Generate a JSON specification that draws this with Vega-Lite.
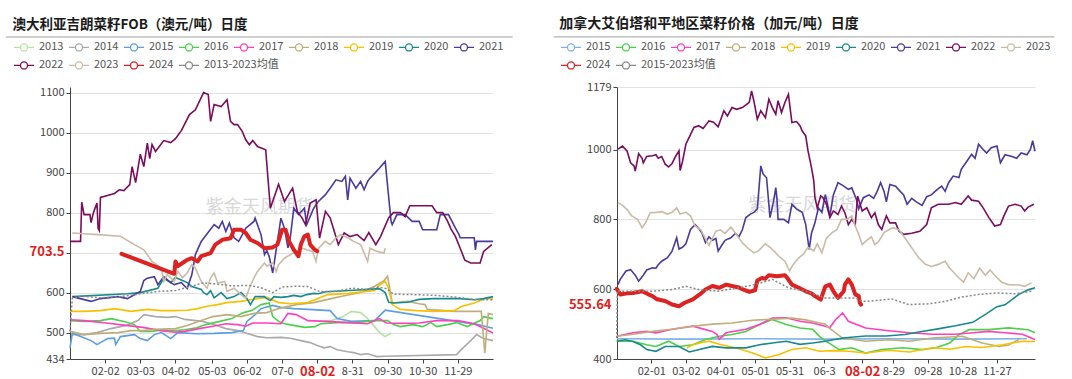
{
"$schema":"https://vega.github.io/schema/vega-lite/v6.json",
"background":"white",
"padding":{"left":5,"top":17,"right":0,"bottom":0},
"spacing":39,
"config":{
"view":{"stroke":null},
"axis":{"labelFont":"Noto Sans CJK SC","labelFontSize":11,"labelColor":"#444","domainColor":"#444","tickColor":"#444","tickSize":4,"labelPadding":2,"grid":false},
"title":{"anchor":"start","font":"Noto Sans CJK SC","fontWeight":"bold","color":"#1a1a1a","offset":5},
"legend":{"direction":"horizontal","columns":9,"symbolType":"M-1,0L-0.35,0M0.35,0L1,0M0.35,0A0.35,0.35,0,1,1,-0.35,0A0.35,0.35,0,1,1,0.35,0","symbolSize":400,"symbolStrokeWidth":1.3,"symbolFillColor":"#ffffff","labelFont":"Noto Sans CJK SC","labelFontSize":11,"labelColor":"#555","labelOffset":4,"columnPadding":2,"rowPadding":2,"padding":0}
},
"resolve":{"scale":{"x":"independent","y":"independent","color":"independent","stroke":"independent"},"legend":{"color":"independent","stroke":"independent"}},
"datasets":{
"L":[
{"s":"2013","x":214,"v":528},{"s":"2013","x":225,"v":530},{"s":"2013","x":235,"v":540},{"s":"2013","x":242,"v":553},{"s":"2013","x":250,"v":550},{"s":"2013","x":256,"v":535},{"s":"2013","x":262,"v":515},{"s":"2013","x":267,"v":498},{"s":"2013","x":271,"v":490},{"s":"2013","x":276,"v":499},
{"s":"2014","x":3,"v":495},{"s":"2014","x":14,"v":495},{"s":"2014","x":25,"v":500},{"s":"2014","x":37,"v":510},{"s":"2014","x":50,"v":518},{"s":"2014","x":60,"v":530},{"s":"2014","x":65,"v":545},{"s":"2014","x":75,"v":540},{"s":"2014","x":85,"v":538},{"s":"2014","x":92,"v":540},{"s":"2014","x":100,"v":533},{"s":"2014","x":115,"v":528},{"s":"2014","x":125,"v":520},{"s":"2014","x":135,"v":510},{"s":"2014","x":145,"v":505},{"s":"2014","x":152,"v":499},{"s":"2014","x":162,"v":490},{"s":"2014","x":170,"v":487},{"s":"2014","x":182,"v":488},{"s":"2014","x":190,"v":486},{"s":"2014","x":199,"v":480},{"s":"2014","x":207,"v":475},{"s":"2014","x":213,"v":468},{"s":"2014","x":219,"v":462},{"s":"2014","x":224,"v":465},{"s":"2014","x":230,"v":457},{"s":"2014","x":239,"v":452},{"s":"2014","x":244,"v":450},{"s":"2014","x":250,"v":445},{"s":"2014","x":256,"v":447},{"s":"2014","x":264,"v":440},{"s":"2014","x":271,"v":441},{"s":"2014","x":332,"v":445},{"s":"2014","x":335,"v":455},{"s":"2014","x":344,"v":480},{"s":"2014","x":349,"v":495},{"s":"2014","x":355,"v":485},{"s":"2014","x":363,"v":480},
{"s":"2015","x":2,"v":462},{"s":"2015","x":4,"v":499},{"s":"2015","x":11,"v":490},{"s":"2015","x":20,"v":480},{"s":"2015","x":25,"v":470},{"s":"2015","x":31,"v":480},{"s":"2015","x":34,"v":485},{"s":"2015","x":40,"v":486},{"s":"2015","x":41,"v":470},{"s":"2015","x":45,"v":490},{"s":"2015","x":57,"v":495},{"s":"2015","x":62,"v":485},{"s":"2015","x":68,"v":480},{"s":"2015","x":74,"v":495},{"s":"2015","x":80,"v":500},{"s":"2015","x":88,"v":485},{"s":"2015","x":94,"v":500},{"s":"2015","x":110,"v":497},{"s":"2015","x":125,"v":498},{"s":"2015","x":140,"v":500},{"s":"2015","x":150,"v":505},{"s":"2015","x":153,"v":528},{"s":"2015","x":160,"v":545},{"s":"2015","x":165,"v":560},{"s":"2015","x":175,"v":568},{"s":"2015","x":182,"v":563},{"s":"2015","x":193,"v":560},{"s":"2015","x":205,"v":558},{"s":"2015","x":224,"v":555},{"s":"2015","x":230,"v":535},{"s":"2015","x":242,"v":528},{"s":"2015","x":262,"v":530},{"s":"2015","x":271,"v":556},{"s":"2015","x":350,"v":520},{"s":"2015","x":363,"v":511},
{"s":"2016","x":3,"v":530},{"s":"2016","x":14,"v":528},{"s":"2016","x":28,"v":530},{"s":"2016","x":37,"v":535},{"s":"2016","x":48,"v":528},{"s":"2016","x":57,"v":520},{"s":"2016","x":62,"v":503},{"s":"2016","x":71,"v":503},{"s":"2016","x":80,"v":506},{"s":"2016","x":92,"v":505},{"s":"2016","x":100,"v":507},{"s":"2016","x":110,"v":512},{"s":"2016","x":118,"v":520},{"s":"2016","x":130,"v":528},{"s":"2016","x":140,"v":535},{"s":"2016","x":150,"v":550},{"s":"2016","x":157,"v":555},{"s":"2016","x":165,"v":570},{"s":"2016","x":172,"v":574},{"s":"2016","x":175,"v":540},{"s":"2016","x":180,"v":528},{"s":"2016","x":185,"v":522},{"s":"2016","x":193,"v":518},{"s":"2016","x":202,"v":513},{"s":"2016","x":211,"v":515},{"s":"2016","x":216,"v":522},{"s":"2016","x":230,"v":525},{"s":"2016","x":248,"v":525},{"s":"2016","x":260,"v":530},{"s":"2016","x":273,"v":530},{"s":"2016","x":278,"v":520},{"s":"2016","x":284,"v":515},{"s":"2016","x":295,"v":520},{"s":"2016","x":303,"v":515},{"s":"2016","x":310,"v":525},{"s":"2016","x":315,"v":515},{"s":"2016","x":324,"v":520},{"s":"2016","x":332,"v":525},{"s":"2016","x":341,"v":515},{"s":"2016","x":352,"v":530},{"s":"2016","x":355,"v":540},{"s":"2016","x":363,"v":535},
{"s":"2017","x":3,"v":532},{"s":"2017","x":14,"v":530},{"s":"2017","x":33,"v":524},{"s":"2017","x":50,"v":518},{"s":"2017","x":64,"v":513},{"s":"2017","x":80,"v":505},{"s":"2017","x":92,"v":501},{"s":"2017","x":100,"v":503},{"s":"2017","x":112,"v":510},{"s":"2017","x":124,"v":516},{"s":"2017","x":135,"v":522},{"s":"2017","x":145,"v":520},{"s":"2017","x":152,"v":516},{"s":"2017","x":158,"v":524},{"s":"2017","x":170,"v":524},{"s":"2017","x":182,"v":522},{"s":"2017","x":188,"v":548},{"s":"2017","x":195,"v":545},{"s":"2017","x":205,"v":530},{"s":"2017","x":220,"v":528},{"s":"2017","x":240,"v":525},{"s":"2017","x":256,"v":522},{"s":"2017","x":266,"v":535},{"s":"2017","x":272,"v":524},{"s":"2017","x":285,"v":523},{"s":"2017","x":300,"v":524},{"s":"2017","x":315,"v":530},{"s":"2017","x":333,"v":530},{"s":"2017","x":347,"v":522},{"s":"2017","x":355,"v":511},{"s":"2017","x":363,"v":499},
{"s":"2018","x":2,"v":503},{"s":"2018","x":14,"v":495},{"s":"2018","x":28,"v":498},{"s":"2018","x":43,"v":500},{"s":"2018","x":54,"v":505},{"s":"2018","x":64,"v":505},{"s":"2018","x":75,"v":508},{"s":"2018","x":92,"v":510},{"s":"2018","x":102,"v":518},{"s":"2018","x":114,"v":530},{"s":"2018","x":124,"v":540},{"s":"2018","x":136,"v":545},{"s":"2018","x":148,"v":540},{"s":"2018","x":159,"v":548},{"s":"2018","x":170,"v":550},{"s":"2018","x":180,"v":560},{"s":"2018","x":195,"v":570},{"s":"2018","x":210,"v":575},{"s":"2018","x":222,"v":583},{"s":"2018","x":234,"v":591},{"s":"2018","x":250,"v":600},{"s":"2018","x":262,"v":616},{"s":"2018","x":270,"v":630},{"s":"2018","x":273,"v":641},{"s":"2018","x":277,"v":574},{"s":"2018","x":290,"v":578},{"s":"2018","x":300,"v":572},{"s":"2018","x":305,"v":570},{"s":"2018","x":307,"v":558},{"s":"2018","x":330,"v":553},{"s":"2018","x":353,"v":553},{"s":"2018","x":356,"v":449},{"s":"2018","x":359,"v":548},{"s":"2018","x":363,"v":545},
{"s":"2019","x":2,"v":553},{"s":"2019","x":14,"v":553},{"s":"2019","x":28,"v":555},{"s":"2019","x":40,"v":560},{"s":"2019","x":54,"v":553},{"s":"2019","x":68,"v":558},{"s":"2019","x":80,"v":555},{"s":"2019","x":91,"v":555},{"s":"2019","x":102,"v":556},{"s":"2019","x":111,"v":560},{"s":"2019","x":119,"v":566},{"s":"2019","x":128,"v":570},{"s":"2019","x":136,"v":575},{"s":"2019","x":148,"v":578},{"s":"2019","x":156,"v":582},{"s":"2019","x":170,"v":588},{"s":"2019","x":180,"v":575},{"s":"2019","x":190,"v":572},{"s":"2019","x":205,"v":575},{"s":"2019","x":222,"v":595},{"s":"2019","x":240,"v":598},{"s":"2019","x":255,"v":603},{"s":"2019","x":262,"v":605},{"s":"2019","x":266,"v":618},{"s":"2019","x":271,"v":628},{"s":"2019","x":274,"v":610},{"s":"2019","x":277,"v":570},{"s":"2019","x":284,"v":558},{"s":"2019","x":298,"v":555},{"s":"2019","x":312,"v":553},{"s":"2019","x":330,"v":555},{"s":"2019","x":336,"v":565},{"s":"2019","x":347,"v":574},{"s":"2019","x":357,"v":586},{"s":"2019","x":363,"v":585},
{"s":"2020","x":4,"v":590},{"s":"2020","x":51,"v":597},{"s":"2020","x":62,"v":600},{"s":"2020","x":77,"v":611},{"s":"2020","x":82,"v":636},{"s":"2020","x":88,"v":625},{"s":"2020","x":92,"v":638},{"s":"2020","x":98,"v":630},{"s":"2020","x":102,"v":625},{"s":"2020","x":106,"v":615},{"s":"2020","x":114,"v":608},{"s":"2020","x":116,"v":600},{"s":"2020","x":119,"v":595},{"s":"2020","x":122,"v":605},{"s":"2020","x":125,"v":587},{"s":"2020","x":131,"v":600},{"s":"2020","x":136,"v":585},{"s":"2020","x":142,"v":590},{"s":"2020","x":148,"v":600},{"s":"2020","x":153,"v":585},{"s":"2020","x":156,"v":570},{"s":"2020","x":160,"v":590},{"s":"2020","x":168,"v":590},{"s":"2020","x":170,"v":585},{"s":"2020","x":173,"v":580},{"s":"2020","x":176,"v":590},{"s":"2020","x":182,"v":588},{"s":"2020","x":188,"v":590},{"s":"2020","x":193,"v":593},{"s":"2020","x":199,"v":590},{"s":"2020","x":204,"v":595},{"s":"2020","x":210,"v":598},{"s":"2020","x":214,"v":597},{"s":"2020","x":220,"v":602},{"s":"2020","x":233,"v":604},{"s":"2020","x":244,"v":606},{"s":"2020","x":256,"v":608},{"s":"2020","x":266,"v":610},{"s":"2020","x":271,"v":600},{"s":"2020","x":274,"v":576},{"s":"2020","x":278,"v":574},{"s":"2020","x":290,"v":576},{"s":"2020","x":300,"v":583},{"s":"2020","x":312,"v":585},{"s":"2020","x":324,"v":585},{"s":"2020","x":335,"v":585},{"s":"2020","x":347,"v":582},{"s":"2020","x":355,"v":585},{"s":"2020","x":363,"v":590},
{"s":"2021","x":4,"v":590},{"s":"2021","x":20,"v":578},{"s":"2021","x":28,"v":585},{"s":"2021","x":43,"v":590},{"s":"2021","x":51,"v":585},{"s":"2021","x":62,"v":603},{"s":"2021","x":65,"v":630},{"s":"2021","x":68,"v":636},{"s":"2021","x":74,"v":640},{"s":"2021","x":77,"v":620},{"s":"2021","x":82,"v":640},{"s":"2021","x":88,"v":625},{"s":"2021","x":91,"v":620},{"s":"2021","x":97,"v":625},{"s":"2021","x":102,"v":610},{"s":"2021","x":106,"v":645},{"s":"2021","x":109,"v":695},{"s":"2021","x":114,"v":728},{"s":"2021","x":125,"v":770},{"s":"2021","x":129,"v":761},{"s":"2021","x":132,"v":778},{"s":"2021","x":135,"v":753},{"s":"2021","x":138,"v":774},{"s":"2021","x":142,"v":737},{"s":"2021","x":146,"v":728},{"s":"2021","x":152,"v":761},{"s":"2021","x":159,"v":778},{"s":"2021","x":160,"v":786},{"s":"2021","x":165,"v":745},{"s":"2021","x":168,"v":695},{"s":"2021","x":170,"v":705},{"s":"2021","x":172,"v":690},{"s":"2021","x":175,"v":649},{"s":"2021","x":182,"v":786},{"s":"2021","x":185,"v":761},{"s":"2021","x":188,"v":712},{"s":"2021","x":190,"v":737},{"s":"2021","x":193,"v":811},{"s":"2021","x":197,"v":795},{"s":"2021","x":202,"v":811},{"s":"2021","x":204,"v":770},{"s":"2021","x":210,"v":811},{"s":"2021","x":214,"v":828},{"s":"2021","x":220,"v":845},{"s":"2021","x":224,"v":861},{"s":"2021","x":229,"v":882},{"s":"2021","x":234,"v":878},{"s":"2021","x":237,"v":891},{"s":"2021","x":239,"v":832},{"s":"2021","x":241,"v":886},{"s":"2021","x":246,"v":861},{"s":"2021","x":250,"v":878},{"s":"2021","x":253,"v":857},{"s":"2021","x":256,"v":878},{"s":"2021","x":258,"v":886},{"s":"2021","x":261,"v":895},{"s":"2021","x":266,"v":911},{"s":"2021","x":271,"v":928},{"s":"2021","x":276,"v":778},{"s":"2021","x":277,"v":770},{"s":"2021","x":281,"v":795},{"s":"2021","x":288,"v":795},{"s":"2021","x":294,"v":778},{"s":"2021","x":300,"v":778},{"s":"2021","x":303,"v":757},{"s":"2021","x":315,"v":757},{"s":"2021","x":318,"v":795},{"s":"2021","x":325,"v":795},{"s":"2021","x":328,"v":778},{"s":"2021","x":331,"v":761},{"s":"2021","x":334,"v":745},{"s":"2021","x":335,"v":737},{"s":"2021","x":347,"v":737},{"s":"2021","x":348,"v":707},{"s":"2021","x":349,"v":728},{"s":"2021","x":363,"v":728},
{"s":"2022","x":2,"v":728},{"s":"2022","x":11,"v":728},{"s":"2022","x":12,"v":826},{"s":"2022","x":14,"v":795},{"s":"2022","x":19,"v":795},{"s":"2022","x":20,"v":775},{"s":"2022","x":22,"v":800},{"s":"2022","x":25,"v":824},{"s":"2022","x":26,"v":760},{"s":"2022","x":27,"v":755},{"s":"2022","x":28,"v":838},{"s":"2022","x":34,"v":843},{"s":"2022","x":40,"v":848},{"s":"2022","x":44,"v":857},{"s":"2022","x":48,"v":855},{"s":"2022","x":53,"v":870},{"s":"2022","x":55,"v":915},{"s":"2022","x":58,"v":875},{"s":"2022","x":62,"v":946},{"s":"2022","x":65,"v":915},{"s":"2022","x":68,"v":974},{"s":"2022","x":70,"v":935},{"s":"2022","x":72,"v":970},{"s":"2022","x":75,"v":953},{"s":"2022","x":82,"v":980},{"s":"2022","x":88,"v":975},{"s":"2022","x":92,"v":985},{"s":"2022","x":97,"v":1005},{"s":"2022","x":104,"v":1045},{"s":"2022","x":109,"v":1057},{"s":"2022","x":116,"v":1100},{"s":"2022","x":120,"v":1095},{"s":"2022","x":122,"v":1028},{"s":"2022","x":125,"v":1070},{"s":"2022","x":131,"v":1065},{"s":"2022","x":136,"v":1082},{"s":"2022","x":139,"v":1028},{"s":"2022","x":142,"v":1020},{"s":"2022","x":145,"v":1020},{"s":"2022","x":149,"v":1003},{"s":"2022","x":152,"v":982},{"s":"2022","x":155,"v":970},{"s":"2022","x":158,"v":980},{"s":"2022","x":162,"v":965},{"s":"2022","x":169,"v":957},{"s":"2022","x":173,"v":811},{"s":"2022","x":180,"v":871},{"s":"2022","x":185,"v":828},{"s":"2022","x":192,"v":861},{"s":"2022","x":196,"v":803},{"s":"2022","x":200,"v":787},{"s":"2022","x":203,"v":770},{"s":"2022","x":207,"v":824},{"s":"2022","x":212,"v":832},{"s":"2022","x":215,"v":736},{"s":"2022","x":220,"v":803},{"s":"2022","x":224,"v":787},{"s":"2022","x":231,"v":720},{"s":"2022","x":236,"v":749},{"s":"2022","x":241,"v":740},{"s":"2022","x":247,"v":745},{"s":"2022","x":253,"v":730},{"s":"2022","x":257,"v":750},{"s":"2022","x":263,"v":720},{"s":"2022","x":267,"v":740},{"s":"2022","x":274,"v":787},{"s":"2022","x":278,"v":800},{"s":"2022","x":284,"v":800},{"s":"2022","x":288,"v":790},{"s":"2022","x":292,"v":817},{"s":"2022","x":311,"v":817},{"s":"2022","x":315,"v":800},{"s":"2022","x":320,"v":800},{"s":"2022","x":324,"v":780},{"s":"2022","x":327,"v":760},{"s":"2022","x":331,"v":740},{"s":"2022","x":335,"v":711},{"s":"2022","x":339,"v":681},{"s":"2022","x":344,"v":674},{"s":"2022","x":352,"v":674},{"s":"2022","x":355,"v":703},{"s":"2022","x":362,"v":720},
{"s":"2023","x":4,"v":749},{"s":"2023","x":26,"v":745},{"s":"2023","x":45,"v":741},{"s":"2023","x":57,"v":720},{"s":"2023","x":65,"v":707},{"s":"2023","x":72,"v":678},{"s":"2023","x":80,"v":661},{"s":"2023","x":82,"v":628},{"s":"2023","x":85,"v":645},{"s":"2023","x":88,"v":637},{"s":"2023","x":91,"v":628},{"s":"2023","x":94,"v":653},{"s":"2023","x":98,"v":637},{"s":"2023","x":102,"v":649},{"s":"2023","x":106,"v":670},{"s":"2023","x":109,"v":661},{"s":"2023","x":114,"v":628},{"s":"2023","x":119,"v":611},{"s":"2023","x":122,"v":637},{"s":"2023","x":125,"v":649},{"s":"2023","x":128,"v":624},{"s":"2023","x":134,"v":628},{"s":"2023","x":136,"v":603},{"s":"2023","x":142,"v":611},{"s":"2023","x":148,"v":595},{"s":"2023","x":152,"v":586},{"s":"2023","x":155,"v":611},{"s":"2023","x":159,"v":637},{"s":"2023","x":162,"v":653},{"s":"2023","x":168,"v":674},{"s":"2023","x":170,"v":666},{"s":"2023","x":175,"v":674},{"s":"2023","x":178,"v":653},{"s":"2023","x":180,"v":670},{"s":"2023","x":185,"v":686},{"s":"2023","x":190,"v":695},{"s":"2023","x":196,"v":703},{"s":"2023","x":200,"v":711},{"s":"2023","x":204,"v":707},{"s":"2023","x":209,"v":703},{"s":"2023","x":212,"v":678},{"s":"2023","x":214,"v":711},{"s":"2023","x":220,"v":728},{"s":"2023","x":224,"v":720},{"s":"2023","x":229,"v":737},{"s":"2023","x":233,"v":745},{"s":"2023","x":239,"v":737},{"s":"2023","x":244,"v":728},{"s":"2023","x":250,"v":720},{"s":"2023","x":256,"v":678},{"s":"2023","x":258,"v":711},{"s":"2023","x":264,"v":703},{"s":"2023","x":270,"v":699},{"s":"2023","x":271,"v":711},
{"s":"2024","x":46,"v":697},{"s":"2024","x":91,"v":647},{"s":"2024","x":92,"v":678},{"s":"2024","x":94,"v":666},{"s":"2024","x":98,"v":674},{"s":"2024","x":102,"v":682},{"s":"2024","x":106,"v":686},{"s":"2024","x":111,"v":678},{"s":"2024","x":114,"v":691},{"s":"2024","x":118,"v":695},{"s":"2024","x":122,"v":699},{"s":"2024","x":126,"v":720},{"s":"2024","x":132,"v":732},{"s":"2024","x":139,"v":736},{"s":"2024","x":142,"v":757},{"s":"2024","x":148,"v":757},{"s":"2024","x":152,"v":749},{"s":"2024","x":156,"v":732},{"s":"2024","x":162,"v":724},{"s":"2024","x":168,"v":711},{"s":"2024","x":175,"v":713},{"s":"2024","x":179,"v":720},{"s":"2024","x":183,"v":757},{"s":"2024","x":186,"v":757},{"s":"2024","x":189,"v":728},{"s":"2024","x":193,"v":707},{"s":"2024","x":197,"v":691},{"s":"2024","x":199,"v":720},{"s":"2024","x":202,"v":741},{"s":"2024","x":205,"v":745},{"s":"2024","x":207,"v":720},{"s":"2024","x":211,"v":707},{"s":"2024","x":213,"v":703.5},
{"s":"2013-2023均值","x":2,"v":503},{"s":"2013-2023均值","x":4,"v":586},{"s":"2013-2023均值","x":12,"v":591},{"s":"2013-2023均值","x":28,"v":587},{"s":"2013-2023均值","x":45,"v":590},{"s":"2013-2023均值","x":60,"v":596},{"s":"2013-2023均值","x":77,"v":603},{"s":"2013-2023均值","x":92,"v":605},{"s":"2013-2023均值","x":105,"v":615},{"s":"2013-2023均值","x":115,"v":624},{"s":"2013-2023均值","x":125,"v":622},{"s":"2013-2023均值","x":140,"v":617},{"s":"2013-2023均值","x":155,"v":618},{"s":"2013-2023均值","x":165,"v":612},{"s":"2013-2023均值","x":175,"v":600},{"s":"2013-2023均值","x":183,"v":614},{"s":"2013-2023均值","x":195,"v":616},{"s":"2013-2023均值","x":205,"v":615},{"s":"2013-2023均值","x":215,"v":603},{"s":"2013-2023均值","x":228,"v":603},{"s":"2013-2023均值","x":243,"v":611},{"s":"2013-2023均值","x":257,"v":607},{"s":"2013-2023均值","x":265,"v":614},{"s":"2013-2023均值","x":272,"v":610},{"s":"2013-2023均值","x":278,"v":596},{"s":"2013-2023均值","x":295,"v":595},{"s":"2013-2023均值","x":315,"v":593},{"s":"2013-2023均值","x":333,"v":588},{"s":"2013-2023均值","x":350,"v":582},{"s":"2013-2023均值","x":363,"v":582}
],
"R":[
{"s":"2015","x":1,"v":458},{"s":"2015","x":60,"v":457},{"s":"2015","x":120,"v":458},{"s":"2015","x":180,"v":457},{"s":"2015","x":240,"v":458},{"s":"2015","x":300,"v":457},{"s":"2015","x":357,"v":458},
{"s":"2016","x":1,"v":451},{"s":"2016","x":15,"v":451},{"s":"2016","x":27,"v":441},{"s":"2016","x":35,"v":436},{"s":"2016","x":46,"v":451},{"s":"2016","x":55,"v":436},{"s":"2016","x":67,"v":441},{"s":"2016","x":78,"v":456},{"s":"2016","x":90,"v":465},{"s":"2016","x":101,"v":470},{"s":"2016","x":113,"v":479},{"s":"2016","x":125,"v":499},{"s":"2016","x":136,"v":513},{"s":"2016","x":148,"v":499},{"s":"2016","x":160,"v":489},{"s":"2016","x":171,"v":485},{"s":"2016","x":177,"v":465},{"s":"2016","x":182,"v":451},{"s":"2016","x":185,"v":446},{"s":"2016","x":194,"v":427},{"s":"2016","x":205,"v":432},{"s":"2016","x":217,"v":417},{"s":"2016","x":231,"v":427},{"s":"2016","x":249,"v":432},{"s":"2016","x":266,"v":427},{"s":"2016","x":278,"v":432},{"s":"2016","x":290,"v":446},{"s":"2016","x":298,"v":470},{"s":"2016","x":307,"v":484},{"s":"2016","x":324,"v":484},{"s":"2016","x":341,"v":489},{"s":"2016","x":358,"v":484},{"s":"2016","x":364,"v":475},
{"s":"2017","x":1,"v":465},{"s":"2017","x":15,"v":475},{"s":"2017","x":27,"v":479},{"s":"2017","x":35,"v":475},{"s":"2017","x":49,"v":485},{"s":"2017","x":67,"v":494},{"s":"2017","x":84,"v":479},{"s":"2017","x":88,"v":470},{"s":"2017","x":90,"v":456},{"s":"2017","x":96,"v":475},{"s":"2017","x":113,"v":485},{"s":"2017","x":125,"v":499},{"s":"2017","x":136,"v":517},{"s":"2017","x":148,"v":518},{"s":"2017","x":160,"v":508},{"s":"2017","x":171,"v":503},{"s":"2017","x":182,"v":494},{"s":"2017","x":186,"v":490},{"s":"2017","x":191,"v":513},{"s":"2017","x":197,"v":532},{"s":"2017","x":202,"v":508},{"s":"2017","x":217,"v":489},{"s":"2017","x":237,"v":481},{"s":"2017","x":255,"v":475},{"s":"2017","x":275,"v":471},{"s":"2017","x":295,"v":471},{"s":"2017","x":310,"v":475},{"s":"2017","x":324,"v":479},{"s":"2017","x":338,"v":475},{"s":"2017","x":353,"v":471},{"s":"2017","x":364,"v":456},
{"s":"2018","x":1,"v":465},{"s":"2018","x":15,"v":471},{"s":"2018","x":32,"v":479},{"s":"2018","x":49,"v":485},{"s":"2018","x":67,"v":494},{"s":"2018","x":84,"v":500},{"s":"2018","x":101,"v":503},{"s":"2018","x":119,"v":511},{"s":"2018","x":136,"v":514},{"s":"2018","x":153,"v":517},{"s":"2018","x":165,"v":512},{"s":"2018","x":177,"v":503},{"s":"2018","x":182,"v":500},{"s":"2018","x":185,"v":490},{"s":"2018","x":197,"v":460},{"s":"2018","x":217,"v":451},{"s":"2018","x":237,"v":455},{"s":"2018","x":255,"v":451},{"s":"2018","x":275,"v":460},{"s":"2018","x":290,"v":463},{"s":"2018","x":301,"v":465},{"s":"2018","x":318,"v":446},{"s":"2018","x":333,"v":436},{"s":"2018","x":341,"v":440},{"s":"2018","x":350,"v":456},
{"s":"2019","x":62,"v":432},{"s":"2019","x":67,"v":441},{"s":"2019","x":75,"v":447},{"s":"2019","x":81,"v":451},{"s":"2019","x":90,"v":442},{"s":"2019","x":104,"v":432},{"s":"2019","x":119,"v":417},{"s":"2019","x":130,"v":403},{"s":"2019","x":142,"v":413},{"s":"2019","x":153,"v":427},{"s":"2019","x":165,"v":432},{"s":"2019","x":177,"v":422},{"s":"2019","x":190,"v":424},{"s":"2019","x":202,"v":422},{"s":"2019","x":217,"v":417},{"s":"2019","x":237,"v":425},{"s":"2019","x":255,"v":420},{"s":"2019","x":275,"v":432},{"s":"2019","x":290,"v":428},{"s":"2019","x":304,"v":436},{"s":"2019","x":318,"v":433},{"s":"2019","x":336,"v":441},{"s":"2019","x":353,"v":451},{"s":"2019","x":364,"v":450},
{"s":"2020","x":1,"v":451},{"s":"2020","x":8,"v":455},{"s":"2020","x":15,"v":450},{"s":"2020","x":22,"v":440},{"s":"2020","x":27,"v":427},{"s":"2020","x":35,"v":422},{"s":"2020","x":43,"v":436},{"s":"2020","x":55,"v":436},{"s":"2020","x":64,"v":420},{"s":"2020","x":70,"v":425},{"s":"2020","x":84,"v":436},{"s":"2020","x":96,"v":432},{"s":"2020","x":113,"v":432},{"s":"2020","x":125,"v":441},{"s":"2020","x":136,"v":446},{"s":"2020","x":148,"v":451},{"s":"2020","x":160,"v":442},{"s":"2020","x":171,"v":446},{"s":"2020","x":182,"v":451},{"s":"2020","x":197,"v":460},{"s":"2020","x":217,"v":466},{"s":"2020","x":235,"v":466},{"s":"2020","x":251,"v":470},{"s":"2020","x":266,"v":479},{"s":"2020","x":281,"v":487},{"s":"2020","x":295,"v":495},{"s":"2020","x":310,"v":505},{"s":"2020","x":322,"v":530},{"s":"2020","x":331,"v":550},{"s":"2020","x":338,"v":555},{"s":"2020","x":350,"v":585},{"s":"2020","x":358,"v":598},{"s":"2020","x":364,"v":604},
{"s":"2021","x":2,"v":613},{"s":"2021","x":4,"v":628},{"s":"2021","x":9,"v":652},{"s":"2021","x":13,"v":656},{"s":"2021","x":17,"v":640},{"s":"2021","x":20,"v":623},{"s":"2021","x":24,"v":640},{"s":"2021","x":27,"v":655},{"s":"2021","x":32,"v":661},{"s":"2021","x":35,"v":660},{"s":"2021","x":37,"v":670},{"s":"2021","x":40,"v":680},{"s":"2021","x":45,"v":690},{"s":"2021","x":49,"v":709},{"s":"2021","x":53,"v":747},{"s":"2021","x":55,"v":715},{"s":"2021","x":58,"v":720},{"s":"2021","x":61,"v":730},{"s":"2021","x":65,"v":771},{"s":"2021","x":69,"v":785},{"s":"2021","x":72,"v":775},{"s":"2021","x":75,"v":760},{"s":"2021","x":78,"v":733},{"s":"2021","x":81,"v":750},{"s":"2021","x":84,"v":740},{"s":"2021","x":87,"v":745},{"s":"2021","x":89,"v":709},{"s":"2021","x":92,"v":725},{"s":"2021","x":95,"v":740},{"s":"2021","x":100,"v":747},{"s":"2021","x":104,"v":760},{"s":"2021","x":107,"v":750},{"s":"2021","x":110,"v":770},{"s":"2021","x":113,"v":805},{"s":"2021","x":117,"v":815},{"s":"2021","x":120,"v":820},{"s":"2021","x":123,"v":830},{"s":"2021","x":126,"v":953},{"s":"2021","x":128,"v":930},{"s":"2021","x":131,"v":919},{"s":"2021","x":134,"v":805},{"s":"2021","x":137,"v":850},{"s":"2021","x":139,"v":891},{"s":"2021","x":140,"v":860},{"s":"2021","x":141,"v":800},{"s":"2021","x":146,"v":800},{"s":"2021","x":150,"v":790},{"s":"2021","x":153,"v":843},{"s":"2021","x":157,"v":830},{"s":"2021","x":162,"v":820},{"s":"2021","x":165,"v":785},{"s":"2021","x":168,"v":714},{"s":"2021","x":170,"v":760},{"s":"2021","x":173,"v":790},{"s":"2021","x":176,"v":833},{"s":"2021","x":179,"v":820},{"s":"2021","x":182,"v":871},{"s":"2021","x":186,"v":810},{"s":"2021","x":189,"v":870},{"s":"2021","x":193,"v":905},{"s":"2021","x":198,"v":895},{"s":"2021","x":202,"v":886},{"s":"2021","x":205,"v":890},{"s":"2021","x":209,"v":857},{"s":"2021","x":211,"v":830},{"s":"2021","x":215,"v":862},{"s":"2021","x":220,"v":870},{"s":"2021","x":224,"v":860},{"s":"2021","x":227,"v":880},{"s":"2021","x":230,"v":905},{"s":"2021","x":233,"v":880},{"s":"2021","x":235,"v":850},{"s":"2021","x":238,"v":900},{"s":"2021","x":243,"v":895},{"s":"2021","x":247,"v":880},{"s":"2021","x":250,"v":870},{"s":"2021","x":253,"v":843},{"s":"2021","x":257,"v":860},{"s":"2021","x":261,"v":850},{"s":"2021","x":266,"v":840},{"s":"2021","x":270,"v":865},{"s":"2021","x":274,"v":870},{"s":"2021","x":279,"v":885},{"s":"2021","x":283,"v":895},{"s":"2021","x":286,"v":880},{"s":"2021","x":289,"v":905},{"s":"2021","x":293,"v":924},{"s":"2021","x":298,"v":920},{"s":"2021","x":300,"v":943},{"s":"2021","x":305,"v":967},{"s":"2021","x":309,"v":986},{"s":"2021","x":312,"v":975},{"s":"2021","x":315,"v":1015},{"s":"2021","x":319,"v":1000},{"s":"2021","x":322,"v":990},{"s":"2021","x":326,"v":1005},{"s":"2021","x":331,"v":1010},{"s":"2021","x":334,"v":962},{"s":"2021","x":338,"v":985},{"s":"2021","x":344,"v":980},{"s":"2021","x":348,"v":975},{"s":"2021","x":352,"v":990},{"s":"2021","x":357,"v":985},{"s":"2021","x":360,"v":1000},{"s":"2021","x":362,"v":1025},{"s":"2021","x":364,"v":995},
{"s":"2022","x":2,"v":1001},{"s":"2022","x":6,"v":1010},{"s":"2022","x":10,"v":995},{"s":"2022","x":13,"v":962},{"s":"2022","x":16,"v":953},{"s":"2022","x":17,"v":938},{"s":"2022","x":20,"v":988},{"s":"2022","x":23,"v":975},{"s":"2022","x":24,"v":962},{"s":"2022","x":27,"v":980},{"s":"2022","x":32,"v":982},{"s":"2022","x":35,"v":985},{"s":"2022","x":37,"v":975},{"s":"2022","x":40,"v":980},{"s":"2022","x":43,"v":958},{"s":"2022","x":46,"v":950},{"s":"2022","x":49,"v":960},{"s":"2022","x":52,"v":980},{"s":"2022","x":55,"v":996},{"s":"2022","x":56,"v":940},{"s":"2022","x":58,"v":965},{"s":"2022","x":61,"v":1015},{"s":"2022","x":63,"v":1029},{"s":"2022","x":68,"v":1063},{"s":"2022","x":72,"v":1068},{"s":"2022","x":76,"v":1060},{"s":"2022","x":81,"v":1082},{"s":"2022","x":85,"v":1078},{"s":"2022","x":89,"v":1065},{"s":"2022","x":94,"v":1111},{"s":"2022","x":97,"v":1096},{"s":"2022","x":101,"v":1120},{"s":"2022","x":105,"v":1115},{"s":"2022","x":110,"v":1120},{"s":"2022","x":114,"v":1130},{"s":"2022","x":116,"v":1135},{"s":"2022","x":118,"v":1168},{"s":"2022","x":120,"v":1139},{"s":"2022","x":123,"v":1087},{"s":"2022","x":126,"v":1111},{"s":"2022","x":130,"v":1091},{"s":"2022","x":133,"v":1144},{"s":"2022","x":136,"v":1120},{"s":"2022","x":139,"v":1101},{"s":"2022","x":141,"v":1140},{"s":"2022","x":144,"v":1106},{"s":"2022","x":147,"v":1135},{"s":"2022","x":150,"v":1158},{"s":"2022","x":153,"v":1077},{"s":"2022","x":157,"v":1080},{"s":"2022","x":160,"v":1068},{"s":"2022","x":162,"v":1053},{"s":"2022","x":165,"v":1039},{"s":"2022","x":167,"v":996},{"s":"2022","x":170,"v":948},{"s":"2022","x":172,"v":910},{"s":"2022","x":173,"v":862},{"s":"2022","x":175,"v":833},{"s":"2022","x":178,"v":867},{"s":"2022","x":180,"v":862},{"s":"2022","x":183,"v":843},{"s":"2022","x":186,"v":805},{"s":"2022","x":189,"v":824},{"s":"2022","x":193,"v":814},{"s":"2022","x":196,"v":838},{"s":"2022","x":199,"v":819},{"s":"2022","x":202,"v":785},{"s":"2022","x":205,"v":800},{"s":"2022","x":208,"v":785},{"s":"2022","x":210,"v":867},{"s":"2022","x":214,"v":824},{"s":"2022","x":218,"v":833},{"s":"2022","x":222,"v":805},{"s":"2022","x":225,"v":819},{"s":"2022","x":228,"v":785},{"s":"2022","x":231,"v":771},{"s":"2022","x":235,"v":810},{"s":"2022","x":238,"v":790},{"s":"2022","x":243,"v":790},{"s":"2022","x":246,"v":766},{"s":"2022","x":250,"v":757},{"s":"2022","x":257,"v":760},{"s":"2022","x":264,"v":766},{"s":"2022","x":270,"v":785},{"s":"2022","x":274,"v":833},{"s":"2022","x":280,"v":843},{"s":"2022","x":289,"v":843},{"s":"2022","x":295,"v":848},{"s":"2022","x":300,"v":843},{"s":"2022","x":306,"v":867},{"s":"2022","x":309,"v":855},{"s":"2022","x":315,"v":852},{"s":"2022","x":319,"v":833},{"s":"2022","x":324,"v":805},{"s":"2022","x":329,"v":781},{"s":"2022","x":334,"v":785},{"s":"2022","x":337,"v":810},{"s":"2022","x":341,"v":838},{"s":"2022","x":347,"v":843},{"s":"2022","x":352,"v":838},{"s":"2022","x":355,"v":824},{"s":"2022","x":358,"v":835},{"s":"2022","x":363,"v":843},
{"s":"2023","x":2,"v":848},{"s":"2023","x":6,"v":840},{"s":"2023","x":10,"v":828},{"s":"2023","x":14,"v":810},{"s":"2023","x":19,"v":800},{"s":"2023","x":23,"v":776},{"s":"2023","x":26,"v":790},{"s":"2023","x":30,"v":819},{"s":"2023","x":35,"v":820},{"s":"2023","x":40,"v":822},{"s":"2023","x":45,"v":815},{"s":"2023","x":49,"v":820},{"s":"2023","x":53,"v":833},{"s":"2023","x":56,"v":815},{"s":"2023","x":61,"v":820},{"s":"2023","x":65,"v":810},{"s":"2023","x":69,"v":781},{"s":"2023","x":74,"v":770},{"s":"2023","x":76,"v":757},{"s":"2023","x":81,"v":725},{"s":"2023","x":87,"v":766},{"s":"2023","x":91,"v":770},{"s":"2023","x":95,"v":760},{"s":"2023","x":100,"v":778},{"s":"2023","x":104,"v":760},{"s":"2023","x":110,"v":733},{"s":"2023","x":114,"v":720},{"s":"2023","x":120,"v":704},{"s":"2023","x":124,"v":710},{"s":"2023","x":130,"v":730},{"s":"2023","x":134,"v":720},{"s":"2023","x":139,"v":704},{"s":"2023","x":143,"v":690},{"s":"2023","x":147,"v":680},{"s":"2023","x":151,"v":652},{"s":"2023","x":154,"v":670},{"s":"2023","x":159,"v":690},{"s":"2023","x":163,"v":700},{"s":"2023","x":167,"v":720},{"s":"2023","x":172,"v":710},{"s":"2023","x":175,"v":730},{"s":"2023","x":179,"v":704},{"s":"2023","x":183,"v":747},{"s":"2023","x":188,"v":762},{"s":"2023","x":192,"v":770},{"s":"2023","x":196,"v":800},{"s":"2023","x":201,"v":800},{"s":"2023","x":205,"v":810},{"s":"2023","x":208,"v":781},{"s":"2023","x":211,"v":757},{"s":"2023","x":214,"v":728},{"s":"2023","x":218,"v":740},{"s":"2023","x":222,"v":750},{"s":"2023","x":225,"v":728},{"s":"2023","x":228,"v":735},{"s":"2023","x":233,"v":762},{"s":"2023","x":237,"v":770},{"s":"2023","x":241,"v":776},{"s":"2023","x":246,"v":770},{"s":"2023","x":250,"v":752},{"s":"2023","x":254,"v":733},{"s":"2023","x":259,"v":709},{"s":"2023","x":263,"v":690},{"s":"2023","x":269,"v":671},{"s":"2023","x":274,"v":665},{"s":"2023","x":280,"v":671},{"s":"2023","x":286,"v":680},{"s":"2023","x":290,"v":660},{"s":"2023","x":298,"v":632},{"s":"2023","x":302,"v":620},{"s":"2023","x":306,"v":647},{"s":"2023","x":311,"v":630},{"s":"2023","x":316,"v":660},{"s":"2023","x":321,"v":640},{"s":"2023","x":325,"v":655},{"s":"2023","x":329,"v":640},{"s":"2023","x":335,"v":620},{"s":"2023","x":341,"v":613},{"s":"2023","x":350,"v":612},{"s":"2023","x":355,"v":608},{"s":"2023","x":361,"v":618},
{"s":"2024","x":1,"v":601},{"s":"2024","x":4,"v":585},{"s":"2024","x":10,"v":588},{"s":"2024","x":15,"v":589},{"s":"2024","x":23,"v":594},{"s":"2024","x":28,"v":586},{"s":"2024","x":32,"v":580},{"s":"2024","x":36,"v":571},{"s":"2024","x":43,"v":566},{"s":"2024","x":49,"v":556},{"s":"2024","x":55,"v":551},{"s":"2024","x":60,"v":561},{"s":"2024","x":67,"v":571},{"s":"2024","x":73,"v":585},{"s":"2024","x":78,"v":599},{"s":"2024","x":84,"v":609},{"s":"2024","x":90,"v":604},{"s":"2024","x":96,"v":613},{"s":"2024","x":101,"v":609},{"s":"2024","x":107,"v":605},{"s":"2024","x":110,"v":600},{"s":"2024","x":116,"v":592},{"s":"2024","x":121,"v":597},{"s":"2024","x":123,"v":625},{"s":"2024","x":127,"v":632},{"s":"2024","x":130,"v":630},{"s":"2024","x":133,"v":640},{"s":"2024","x":140,"v":637},{"s":"2024","x":147,"v":640},{"s":"2024","x":149,"v":632},{"s":"2024","x":153,"v":613},{"s":"2024","x":159,"v":604},{"s":"2024","x":165,"v":594},{"s":"2024","x":170,"v":588},{"s":"2024","x":173,"v":580},{"s":"2024","x":178,"v":570},{"s":"2024","x":182,"v":608},{"s":"2024","x":186,"v":613},{"s":"2024","x":189,"v":594},{"s":"2024","x":193,"v":575},{"s":"2024","x":198,"v":594},{"s":"2024","x":199,"v":613},{"s":"2024","x":202,"v":628},{"s":"2024","x":205,"v":613},{"s":"2024","x":208,"v":585},{"s":"2024","x":211,"v":580},{"s":"2024","x":212,"v":561},{"s":"2024","x":213,"v":556},
{"s":"2015-2023均值","x":1,"v":460},{"s":"2015-2023均值","x":1.5,"v":595},{"s":"2015-2023均值","x":6,"v":594},{"s":"2015-2023均值","x":32,"v":594},{"s":"2015-2023均值","x":49,"v":599},{"s":"2015-2023均值","x":61,"v":608},{"s":"2015-2023均值","x":72,"v":599},{"s":"2015-2023均值","x":89,"v":594},{"s":"2015-2023均值","x":107,"v":604},{"s":"2015-2023均值","x":121,"v":613},{"s":"2015-2023均值","x":136,"v":628},{"s":"2015-2023均值","x":150,"v":604},{"s":"2015-2023均值","x":165,"v":594},{"s":"2015-2023均值","x":182,"v":575},{"s":"2015-2023均值","x":193,"v":575},{"s":"2015-2023均值","x":208,"v":575},{"s":"2015-2023均值","x":214,"v":565},{"s":"2015-2023均值","x":222,"v":566},{"s":"2015-2023均值","x":240,"v":572},{"s":"2015-2023均值","x":254,"v":556},{"s":"2015-2023均值","x":272,"v":558},{"s":"2015-2023均值","x":286,"v":565},{"s":"2015-2023均值","x":300,"v":577},{"s":"2015-2023均值","x":315,"v":585},{"s":"2015-2023均值","x":331,"v":589},{"s":"2015-2023均值","x":347,"v":587},{"s":"2015-2023均值","x":361,"v":594}
]
},
"hconcat":[
{
"width":423,"height":272,
"title":{"text":"澳大利亚吉朗菜籽FOB（澳元/吨）日度","fontSize":13.5,"dx":7},
"data":{"name":"L"},
"resolve":{"axis":{"x":"independent","y":"independent"}},
"layer":[
{"data":{"values":[{}]},"mark":{"type":"text","font":"Noto Sans CJK SC","fontSize":18,"color":"#cfcfcf","opacity":0.8},
"encoding":{"x":{"datum":164,"type":"quantitative","scale":{"domain":[2,363],"nice":false,"zero":false},"axis":null},"y":{"datum":811,"type":"quantitative","scale":{"domain":[434,1114],"nice":false,"zero":false},"axis":null},"text":{"value":"紫金天风期货"}}},
{"data":{"values":[{}]},"mark":{"type":"rule","color":"#a0a0a0","strokeWidth":1},
"encoding":{"x":{"datum":-52.6,"type":"quantitative","axis":null},"x2":{"datum":379.8},"y":{"datum":1239,"type":"quantitative","axis":null}}},
{"transform":[{"filter":"indexof(['2013','2014','2015','2016','2017','2018','2019','2020','2021'], datum.s) >= 0"}],
"mark":{"type":"line","strokeWidth":1.6},
"encoding":{
"x":{"field":"x","type":"quantitative","scale":{"domain":[2,363],"nice":false,"zero":false},
"axis":{"orient":"bottom","title":null,"values":[32,62,92,123,153,183,213,243,273,303,333],"labelOverlap":false,"labelExpr":"datum.value==32?'02-02':datum.value==62?'03-03':datum.value==92?'04-02':datum.value==123?'05-03':datum.value==153?'06-02':datum.value==183?'07-0':datum.value==213?'08-02':datum.value==243?'8-31':datum.value==273?'09-30':datum.value==303?'10-30':'11-29'",
"labelColor":{"condition":{"test":"datum.value==213","value":"#e02020"},"value":"#444"},
"labelFontWeight":{"condition":{"test":"datum.value==213","value":"bold"},"value":"normal"},
"labelFontSize":{"condition":{"test":"datum.value==213","value":13},"value":11}}},
"y":{"field":"v","type":"quantitative","scale":{"domain":[434,1114],"nice":false,"zero":false},
"axis":{"orient":"left","title":null,"values":[434,500,600,700,703.5,800,900,1000,1100],"labelOverlap":false,"grid":true,"labelExpr":"datum.value==700?'':''+datum.value",
"gridColor":{"condition":{"test":"datum.value==703.5 || datum.value==434","value":"rgba(0,0,0,0)"},"value":"#e2e2e2"},
"tickColor":{"condition":{"test":"datum.value==703.5","value":"rgba(0,0,0,0)"},"value":"#444"},
"labelColor":{"condition":{"test":"datum.value==703.5","value":"#e02020"},"value":"#444"},
"labelFontWeight":{"condition":{"test":"datum.value==703.5","value":"bold"},"value":"normal"},
"labelFontSize":{"condition":{"test":"datum.value==703.5","value":13},"value":11}}},
"color":{"field":"s","type":"nominal","scale":{"domain":["2013","2014","2015","2016","2017","2018","2019","2020","2021"],"range":["#b5e3a3","#aaaaaa","#5b9fe0","#4cd04c","#ff3fc0","#bfae7a","#f9c000","#188a8e","#4a3a9b"]},
"legend":{"title":null,"orient":"none","legendX":-57,"legendY":-51}}}},
{"transform":[{"filter":"datum.s == '2022' || datum.s == '2023'"}],
"mark":{"type":"line","strokeWidth":1.6},
"encoding":{"x":{"field":"x","type":"quantitative","axis":null},"y":{"field":"v","type":"quantitative","axis":null},
"stroke":{"field":"s","type":"nominal","scale":{"domain":["2022","2023","2024","2013-2023均值"],"range":["#7a0d5d","#cbbba6","#dd2222","#888888"]},"legend":{"title":null,"orient":"none","legendX":-57,"legendY":-33}}}},
{"transform":[{"filter":"datum.s == '2024'"}],
"mark":{"type":"line","strokeWidth":4,"strokeCap":"round","strokeJoin":"round"},
"encoding":{"x":{"field":"x","type":"quantitative","axis":null},"y":{"field":"v","type":"quantitative","axis":null},"stroke":{"field":"s","type":"nominal"}}},
{"transform":[{"filter":"indexof(datum.s,'均值') >= 0"}],
"mark":{"type":"line","strokeWidth":1.5,"strokeDash":[2,2]},
"encoding":{"x":{"field":"x","type":"quantitative","axis":null},"y":{"field":"v","type":"quantitative","axis":null},"stroke":{"field":"s","type":"nominal"}}}
]
},
{
"width":418,"height":272,
"title":{"text":"加拿大艾伯塔和平地区菜籽价格（加元/吨）日度","fontSize":14,"dx":6},
"data":{"name":"R"},
"resolve":{"axis":{"x":"independent","y":"independent"}},
"layer":[
{"data":{"values":[{}]},"mark":{"type":"text","font":"Noto Sans CJK SC","fontSize":18,"color":"#cfcfcf","opacity":0.8},
"encoding":{"x":{"datum":162,"type":"quantitative","scale":{"domain":[1.2,364],"nice":false,"zero":false},"axis":null},"y":{"datum":838,"type":"quantitative","scale":{"domain":[400,1179],"nice":false,"zero":false},"axis":null},"text":{"value":"紫金天风期货"}}},
{"data":{"values":[{}]},"mark":{"type":"rule","color":"#a0a0a0","strokeWidth":1},
"encoding":{"x":{"datum":-53.7,"type":"quantitative","axis":null},"x2":{"datum":380.9},"y":{"datum":1322.5,"type":"quantitative","axis":null}}},
{"transform":[{"filter":"indexof(['2015','2016','2017','2018','2019','2020','2021','2022','2023'], datum.s) >= 0"}],
"mark":{"type":"line","strokeWidth":1.6},
"encoding":{
"x":{"field":"x","type":"quantitative","scale":{"domain":[1.2,364],"nice":false,"zero":false},
"axis":{"orient":"bottom","title":null,"values":[31,61,91,121,151,181,214,241,271,301,331],"labelOverlap":false,"labelExpr":"datum.value==31?'02-01':datum.value==61?'03-02':datum.value==91?'04-01':datum.value==121?'05-01':datum.value==151?'05-31':datum.value==181?'06-3':datum.value==214?'08-02':datum.value==241?'8-29':datum.value==271?'09-28':datum.value==301?'10-28':'11-27'",
"labelColor":{"condition":{"test":"datum.value==214","value":"#e02020"},"value":"#444"},
"labelFontWeight":{"condition":{"test":"datum.value==214","value":"bold"},"value":"normal"},
"labelFontSize":{"condition":{"test":"datum.value==214","value":13},"value":11}}},
"y":{"field":"v","type":"quantitative","scale":{"domain":[400,1179],"nice":false,"zero":false},
"axis":{"orient":"left","title":null,"values":[400,555.64,600,800,1000,1179],"labelOverlap":false,"grid":true,"labelExpr":"''+datum.value",
"gridColor":{"condition":{"test":"datum.value==555.64 || datum.value==400","value":"rgba(0,0,0,0)"},"value":"#e2e2e2"},
"tickColor":{"condition":{"test":"datum.value==555.64","value":"rgba(0,0,0,0)"},"value":"#444"},
"labelColor":{"condition":{"test":"datum.value==555.64","value":"#e02020"},"value":"#444"},
"labelFontWeight":{"condition":{"test":"datum.value==555.64","value":"bold"},"value":"normal"},
"labelFontSize":{"condition":{"test":"datum.value==555.64","value":13},"value":11}}},
"strokeWidth":{"condition":{"test":"datum.s=='2015'","value":2.6},"value":1.6},
"color":{"field":"s","type":"nominal","scale":{"domain":["2015","2016","2017","2018","2019","2020","2021","2022","2023"],"range":["#7fb2e8","#4cd04c","#ff3fc0","#bfae7a","#f9c000","#188a8e","#4a3a9b","#7a0d5d","#cbbba6"]},
"legend":{"title":null,"orient":"none","legendX":-57,"legendY":-51}}}},
{"transform":[{"filter":"datum.s == '2024'"}],
"mark":{"type":"line","strokeWidth":4,"strokeCap":"round","strokeJoin":"round"},
"encoding":{"x":{"field":"x","type":"quantitative","axis":null},"y":{"field":"v","type":"quantitative","axis":null},
"stroke":{"field":"s","type":"nominal","scale":{"domain":["2024","2015-2023均值"],"range":["#dd2222","#888888"]},"legend":{"title":null,"orient":"none","legendX":-57,"legendY":-33}}}},
{"transform":[{"filter":"indexof(datum.s,'均值') >= 0"}],
"mark":{"type":"line","strokeWidth":1.5,"strokeDash":[2,2]},
"encoding":{"x":{"field":"x","type":"quantitative","axis":null},"y":{"field":"v","type":"quantitative","axis":null},"stroke":{"field":"s","type":"nominal"}}}
]
}
]
}
